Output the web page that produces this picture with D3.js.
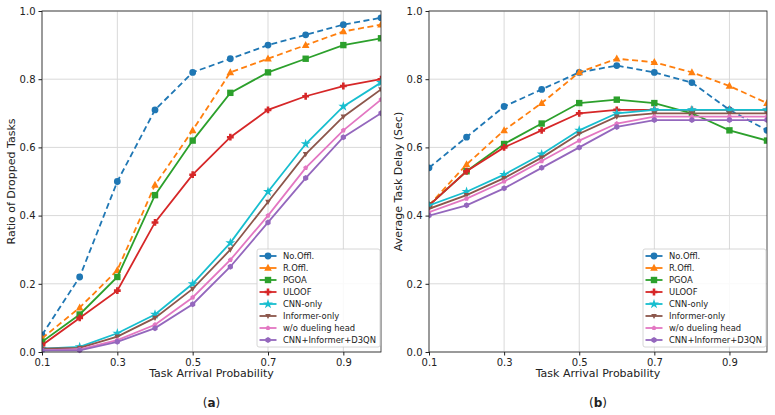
<!DOCTYPE html>
<html>
<head>
<meta charset="utf-8">
<script src="https://cdn.jsdelivr.net/npm/d3@7"></script>
<style>
  body { margin: 0; background: #fff; }
  text { font-family: "DejaVu Sans", sans-serif; }
</style>
</head>
<body>
<svg id="chart" width="775" height="415"></svg>
<script>
const xs = [0.1, 0.2, 0.3, 0.4, 0.5, 0.6, 0.7, 0.8, 0.9, 1.0];
const xTicks = [0.1, 0.3, 0.5, 0.7, 0.9];
const yTicks = [0.0, 0.2, 0.4, 0.6, 0.8, 1.0];

const names = ["No.Offl.", "R.Offl.", "PGOA", "ULOOF", "CNN-only", "Informer-only", "w/o dueling head", "CNN+Informer+D3QN"];
const colors = ["#1f77b4", "#ff7f0e", "#2ca02c", "#d62728", "#17becf", "#8c564b", "#e377c2", "#9467bd"];
const dashed = [true, true, false, false, false, false, false, false];
const symbols = ["circle", "triangle", "square", "plus", "star", "triDown", "pentagon", "hexagon"];
const radii = [3.4, 3.8, 3.2, 3.4, 3.2, 2.8, 2.6, 3.0];

// dropped task ratio (a)
const dropped = [
  [0.05, 0.22, 0.50, 0.71, 0.82, 0.86, 0.90, 0.93, 0.96, 0.98],
  [0.04, 0.13, 0.24, 0.49, 0.65, 0.82, 0.86, 0.90, 0.94, 0.96],
  [0.03, 0.11, 0.22, 0.46, 0.62, 0.76, 0.82, 0.86, 0.90, 0.92],
  [0.02, 0.10, 0.18, 0.38, 0.52, 0.63, 0.71, 0.75, 0.78, 0.80],
  [0.01, 0.015, 0.055, 0.11, 0.20, 0.32, 0.47, 0.61, 0.72, 0.79],
  [0.01, 0.012, 0.045, 0.10, 0.185, 0.30, 0.44, 0.58, 0.69, 0.77],
  [0.005, 0.008, 0.035, 0.08, 0.16, 0.27, 0.40, 0.54, 0.65, 0.74],
  [0.005, 0.005, 0.03, 0.07, 0.14, 0.25, 0.38, 0.51, 0.63, 0.70]
];

// average task delay (b)
const delay = [
  [0.54, 0.63, 0.72, 0.77, 0.82, 0.84, 0.82, 0.79, 0.71, 0.65],
  [0.43, 0.55, 0.65, 0.73, 0.82, 0.86, 0.85, 0.82, 0.78, 0.73],
  [0.43, 0.53, 0.61, 0.67, 0.73, 0.74, 0.73, 0.70, 0.65, 0.62],
  [0.43, 0.53, 0.60, 0.65, 0.70, 0.71, 0.71, 0.71, 0.71, 0.71],
  [0.43, 0.47, 0.52, 0.58, 0.65, 0.70, 0.71, 0.71, 0.71, 0.71],
  [0.42, 0.46, 0.51, 0.57, 0.64, 0.69, 0.70, 0.70, 0.70, 0.70],
  [0.41, 0.45, 0.50, 0.56, 0.62, 0.67, 0.69, 0.69, 0.69, 0.69],
  [0.40, 0.43, 0.48, 0.54, 0.60, 0.66, 0.68, 0.68, 0.68, 0.68]
];

const svg = d3.select("#chart");

function markerPath(sym, r) {
  if (sym === "circle") return d3.symbol(d3.symbolCircle, Math.PI * r * r)();
  if (sym === "square") return d3.symbol(d3.symbolSquare, (2 * r) ** 2)();
  if (sym === "star") return d3.symbol(d3.symbolStar, r * r * 3)();
  if (sym === "hexagon") {
    const pts = d3.range(6).map(i => [r * Math.cos(Math.PI / 3 * i + Math.PI / 6), r * Math.sin(Math.PI / 3 * i + Math.PI / 6)]);
    return "M" + pts.join("L") + "Z";
  }
  if (sym === "pentagon") {
    const pts = d3.range(5).map(i => [r * Math.sin(2 * Math.PI / 5 * i), -r * Math.cos(2 * Math.PI / 5 * i)]);
    return "M" + pts.join("L") + "Z";
  }
  if (sym === "triangle") return `M0,${-r * 1.1}L${r},${r * 0.75}L${-r},${r * 0.75}Z`;
  if (sym === "triDown") return `M0,${r * 1.1}L${r},${-r * 0.75}L${-r},${-r * 0.75}Z`;
  if (sym === "plus") {
    const a = r, b = r * 0.38;
    return `M${-b},${-a}H${b}V${-b}H${a}V${b}H${b}V${a}H${-b}V${b}H${-a}V${-b}H${-b}Z`;
  }
}

function drawPanel(x0, x1, series, ylabel, caption, legendX) {
  const top = 11, bottom = 352;
  const x = d3.scaleLinear().domain([0.1, 1.0]).range([x0, x1]);
  const y = d3.scaleLinear().domain([0, 1]).range([bottom, top]);
  const g = svg.append("g");

  // grid
  g.append("g").selectAll("line").data(xTicks).join("line")
    .attr("x1", d => x(d)).attr("x2", d => x(d)).attr("y1", top).attr("y2", bottom)
    .attr("stroke", "#d9d9d9").attr("stroke-width", 1);
  g.append("g").selectAll("line").data(yTicks).join("line")
    .attr("x1", x0).attr("x2", x1).attr("y1", d => y(d)).attr("y2", d => y(d))
    .attr("stroke", "#d9d9d9").attr("stroke-width", 1);

  const clip = "clip" + x0;
  g.append("clipPath").attr("id", clip).append("rect")
    .attr("x", x0).attr("y", top - 6).attr("width", x1 - x0).attr("height", bottom - top + 12);

  const line = d3.line().x((d, i) => x(xs[i])).y(d => y(d));
  const plot = g.append("g").attr("clip-path", `url(#${clip})`);
  series.forEach((vals, k) => {
    plot.append("path").datum(vals).attr("d", line)
      .attr("fill", "none").attr("stroke", colors[k]).attr("stroke-width", 1.8)
      .attr("stroke-dasharray", dashed[k] ? "6,3.5" : null);
    plot.append("g").selectAll("path").data(vals).join("path")
      .attr("transform", (d, i) => `translate(${x(xs[i])},${y(d)})`)
      .attr("d", markerPath(symbols[k], radii[k]))
      .attr("fill", colors[k]);
  });

  // frame
  g.append("rect").attr("x", x0).attr("y", top).attr("width", x1 - x0).attr("height", bottom - top)
    .attr("fill", "none").attr("stroke", "#222").attr("stroke-width", 0.8);

  const xAxis = d3.axisBottom(x).tickValues(xTicks).tickFormat(d3.format(".1f")).tickSize(3.5).tickPadding(3);
  const yAxis = d3.axisLeft(y).tickValues(yTicks).tickFormat(d3.format(".1f")).tickSize(3.5).tickPadding(3);
  const xa = g.append("g").attr("transform", `translate(0,${bottom})`).call(xAxis);
  const ya = g.append("g").attr("transform", `translate(${x0},0)`).call(yAxis);
  [xa, ya].forEach(a => {
    a.select(".domain").remove();
    a.selectAll("text").attr("font-size", 10).attr("fill", "#222").attr("font-family", "DejaVu Sans");
    a.selectAll("line").attr("stroke", "#222");
  });

  g.append("text").attr("x", (x0 + x1) / 2).attr("y", 377).attr("text-anchor", "middle")
    .attr("font-size", 11).attr("fill", "#222").text("Task Arrival Probability");
  g.append("text").attr("transform", `translate(${x0 - 27},${(top + bottom) / 2}) rotate(-90)`)
    .attr("text-anchor", "middle").attr("font-size", 11).attr("fill", "#222").text(ylabel);

  const cap = g.append("text").attr("x", (x0 + x1) / 2).attr("y", 407).attr("text-anchor", "middle")
    .attr("font-size", 12).attr("fill", "#222").attr("font-family", "DejaVu Serif");
  cap.append("tspan").text("(");
  cap.append("tspan").attr("font-weight", "bold").text(caption);
  cap.append("tspan").text(")");

  // legend
  const lw = x1 - 1 - legendX, lh = 98, ly = 249;
  const lg = g.append("g");
  lg.append("rect").attr("x", legendX).attr("y", ly).attr("width", lw).attr("height", lh)
    .attr("rx", 2).attr("fill", "#fff").attr("fill-opacity", 0.85).attr("stroke", "#ccc").attr("stroke-width", 0.8);
  names.forEach((n, k) => {
    const cy = ly + 7 + k * 12;
    lg.append("line").attr("x1", legendX + 2.5).attr("x2", legendX + 19.5).attr("y1", cy).attr("y2", cy)
      .attr("stroke", colors[k]).attr("stroke-width", 1.8);
    lg.append("path").attr("transform", `translate(${legendX + 11},${cy})`)
      .attr("d", markerPath(symbols[k], radii[k])).attr("fill", colors[k]);
    lg.append("text").attr("x", legendX + 26).attr("y", cy + 3.2).attr("font-size", 8.4)
      .attr("fill", "#222").text(n);
  });
}

drawPanel(42, 381, dropped, "Ratio of Dropped Tasks", "a", 257);
drawPanel(429, 767, delay, "Average Task Delay (Sec)", "b", 643);
</script>
</body>
</html>
